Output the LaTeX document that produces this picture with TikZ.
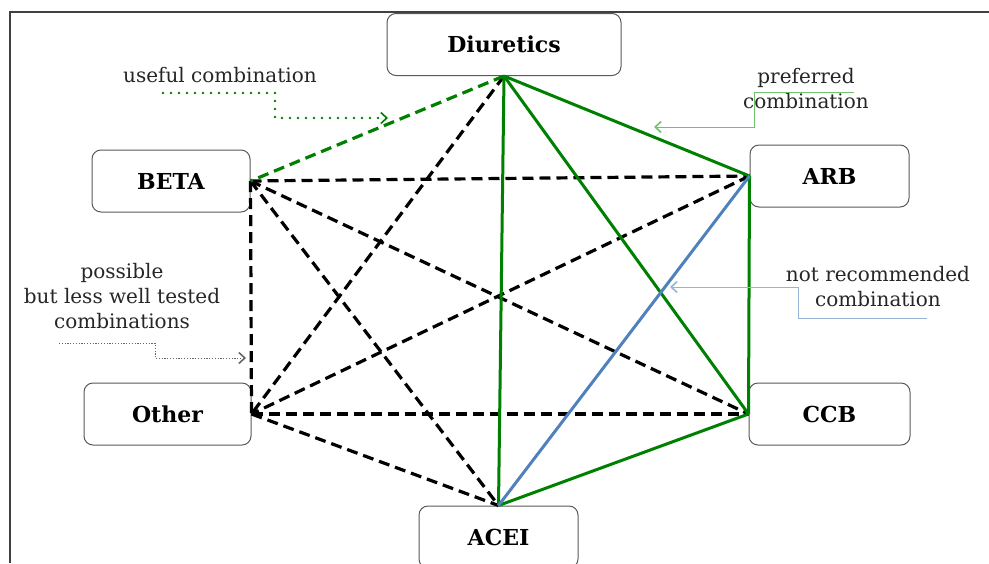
\documentclass[tikz,border=0pt]{standalone}
\usepackage{fontspec}
\setmainfont{DejaVu Serif}
\usetikzlibrary{shapes,arrows,arrows.meta}
\definecolor{comboGreen}{RGB}{0,128,0}
\definecolor{comboBlue}{RGB}{79,129,189}
\definecolor{noteGreen}{RGB}{110,195,110}
\definecolor{noteBlue}{RGB}{150,180,215}
\tikzstyle{drug} = [rectangle,rounded corners=4.5pt,draw=black!65,line width=0.5pt,fill=white,align=center,font=\fontsize{11}{13}\selectfont\bfseries,minimum height=31pt]
\tikzstyle{note} = [align=center,text=black!85,font=\fontsize{10}{12.5}\selectfont]
\tikzstyle{possible} = [black,line width=1.6pt,dash pattern=on 5.5pt off 3pt]
\tikzstyle{useful} = [comboGreen,line width=1.6pt,dash pattern=on 5.5pt off 3pt]
\tikzstyle{preferred} = [comboGreen,line width=1.5pt]
\tikzstyle{notrec} = [comboBlue,line width=1.5pt]
\tikzstyle{pointer} = [-{Straight Barb[length=3pt,width=5.5pt,line width=0.8pt]}]

\begin{document}
\begin{tikzpicture}[x=0.5pt,y=-0.5pt]
\useasboundingbox (0,0) rectangle (989,563);
\clip (0,0) rectangle (989,563);

% frame of the slide
\draw [black!75,line width=0.7pt] (989,12) -- (10,12) -- (10,563);

\node (diuretics) [drug, minimum width=117pt] at (504,44.5) {Diuretics};
\node (beta) [drug, minimum width=79pt] at (171,181) {BETA};
\node (arb) [drug, minimum width=79.5pt] at (829.5,176) {ARB};
\node (other) [drug, minimum width=83.5pt] at (167.5,414) {Other};
\node (ccb) [drug, minimum width=80.5pt] at (829.5,414) {CCB};
\node (acei) [drug, minimum width=79.5pt] at (498.5,537) {ACEI};

% combinations
\draw [possible] (diuretics.south) -- (other.east);
\draw [possible] (beta.east) -- (arb.west);
\draw [possible] (beta.east) -- (ccb.west);
\draw [possible] (beta.east) -- (acei.north);
\draw [possible] (beta.east) -- (other.east);
\draw [possible] (arb.west) -- (other.east);
\draw [possible] (other.east) -- (ccb.west);
\draw [possible] (other.east) -- (acei.north);
\draw [useful] (diuretics.south) -- (beta.east);
\draw [preferred] (diuretics.south) -- (arb.west);
\draw [preferred] (diuretics.south) -- (ccb.west);
\draw [preferred] (diuretics.south) -- (acei.north);
\draw [preferred] (arb.west) -- (ccb.west);
\draw [preferred] (ccb.west) -- (acei.north);
\draw [notrec] (arb.west) -- (acei.north);

% notes
\node (usefulnote) [note] at (220,75) {useful combination};
\coordinate (usefulstart) at (163,93);
\coordinate (usefultip) at (388,118);
\draw [pointer, comboGreen, line width=1.3pt, line cap=round, dash pattern=on 0pt off 4pt] (usefulstart) -- ++(112,0) |- (usefultip);

\node (prefnote) [note] at (806,89) {preferred\\combination};
\coordinate (prefstart) at (854,92);
\coordinate (preftip) at (654,127);
\draw [pointer, noteGreen, line width=0.5pt] (prefstart) -- ++(-100,0) |- (preftip);

\node (possnote) [note] at (122,296) {possible\\but less well tested\\combinations};
\coordinate (possstart) at (59,343);
\coordinate (posstip) at (246,358);
\draw [pointer, black!60, line width=0.4pt, dash pattern=on 0.6pt off 0.8pt] (possstart) -- ++(96,0) |- (posstip);

\node (notrecnote) [note] at (878,287) {not recommended\\combination};
\coordinate (notrecstart) at (927,318);
\coordinate (notrectip) at (670,287);
\draw [pointer, noteBlue, line width=0.5pt] (notrecstart) -- ++(-129,0) |- (notrectip);

\end{tikzpicture}
\end{document}
